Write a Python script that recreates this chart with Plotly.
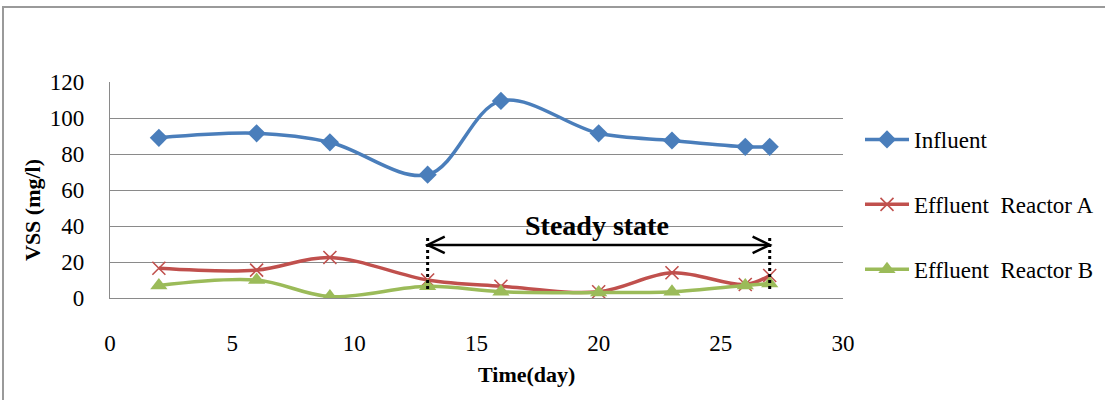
import plotly.graph_objects as go

# Sampling days and VSS concentrations (mg/l)
days = [2, 6, 9, 13, 16, 20, 23, 26, 27]
influent = [89, 91.5, 86.5, 68.5, 109.5, 91.5, 87.5, 84, 84]
effluent_a = [16.5, 15.5, 22.5, 10, 6.5, 3.5, 14, 7.5, 12.5]
effluent_b = [7, 10, 0.8, 6.5, 3.5, 3, 3.5, 7, 8]

series_names = ["Influent", "Effluent  Reactor A", "Effluent  Reactor B"]
x_ticks = [0, 5, 10, 15, 20, 25, 30]
y_ticks = [0, 20, 40, 60, 80, 100, 120]

# Steady-state window
steady_start = 13
steady_end = 27
steady_label = "Steady state"
arrow_level = 29.5
marker_top = 35
marker_bottom = 5

SERIF = "Liberation Serif, Times New Roman, serif"
BLUE = "#4A7EBB"
RED = "#C0504D"
GREEN = "#9BBB59"
GRID = "#8a8a8a"

fig = go.Figure()

fig.add_trace(go.Scatter(
    x=days, y=influent, name=series_names[0], mode="lines+markers",
    line=dict(color=BLUE, width=3.5, shape="spline", smoothing=1),
    marker=dict(symbol="diamond", size=14, color=BLUE),
    legendgroup="a",
))
fig.add_trace(go.Scatter(
    x=days, y=effluent_a, name=series_names[1], mode="lines+markers",
    line=dict(color=RED, width=3.5, shape="spline", smoothing=1),
    marker=dict(symbol="x-thin-open", size=13, color=RED, line=dict(width=1.6, color=RED)),
    legendgroup="b",
))
fig.add_trace(go.Scatter(
    x=days, y=effluent_b, name=series_names[2], mode="lines+markers",
    line=dict(color=GREEN, width=3.5, shape="spline", smoothing=1),
    marker=dict(symbol="triangle-up", size=15, color=GREEN),
    legendgroup="c",
))

# Dotted boundaries of the steady-state window
for xv in (steady_start, steady_end):
    fig.add_shape(type="line", xref="x", yref="y",
                  x0=xv, x1=xv, y0=marker_bottom, y1=marker_top,
                  line=dict(color="black", width=3, dash="dot"))

# Double-headed arrow across the window with open chevron heads
fig.add_shape(type="line", xref="x", yref="y",
              x0=steady_start, x1=steady_end, y0=arrow_level, y1=arrow_level,
              line=dict(color="black", width=2.5))
head_dx = 0.7
head_dy = 4.6
for tip, sign in ((steady_start, 1), (steady_end, -1)):
    fig.add_shape(
        type="path", xref="x", yref="y",
        path=(f"M {tip + sign * head_dx},{arrow_level + head_dy} "
              f"L {tip},{arrow_level} "
              f"L {tip + sign * head_dx},{arrow_level - head_dy}"),
        line=dict(color="black", width=2.5),
    )

fig.add_annotation(
    x=(steady_start + steady_end) / 2 - 0.05, y=40.5, xref="x", yref="y",
    text=f"<b>{steady_label}</b>", showarrow=False,
    xanchor="center", yanchor="middle",
    font=dict(family=SERIF, size=28, color="black"),
)

# Axis titles
fig.add_annotation(
    x=(526 - 110) / 733, y=(298 - 374) / 216, xref="paper", yref="paper",
    text="<b>Time(day)</b>", showarrow=False,
    xanchor="center", yanchor="middle",
    font=dict(family=SERIF, size=22, color="black"),
)
fig.add_annotation(
    x=(32 - 110) / 733, y=(298 - 210) / 216, xref="paper", yref="paper",
    text="<b>VSS (mg/l)</b>", showarrow=False, textangle=-90,
    xanchor="center", yanchor="middle",
    font=dict(family=SERIF, size=22, color="black"),
)

# Chart-area frame
fig.add_shape(type="rect", xref="paper", yref="paper",
              x0=(3 - 110) / 733, x1=(1112 - 110) / 733,
              y0=(298 - 7) / 216, y1=(298 - 410) / 216,
              line=dict(color="#9a9a9a", width=2), layer="below")

fig.update_layout(
    width=1105, height=400,
    margin=dict(l=110, r=262, t=82, b=102, autoexpand=False),
    paper_bgcolor="white", plot_bgcolor="white",
    font=dict(family=SERIF, size=23, color="black"),
    showlegend=True,
    legend=dict(
        x=(860 - 110) / 733, y=(298 - 118) / 216, xanchor="left", yanchor="top",
        font=dict(family=SERIF, size=23, color="black"),
        tracegroupgap=32, itemwidth=44, traceorder="grouped",
        bgcolor="rgba(0,0,0,0)",
    ),
    xaxis=dict(
        range=[0, 30], tickvals=x_ticks, ticks="", showgrid=False,
        zeroline=False, showline=True, linecolor=GRID, linewidth=1.3,
        ticklabelstandoff=24,
        tickfont=dict(family=SERIF, size=23, color="black"),
    ),
    yaxis=dict(
        range=[0, 120], tickvals=y_ticks, ticks="",
        showgrid=True, gridcolor=GRID, gridwidth=1.3,
        zeroline=False, showline=True, linecolor=GRID, linewidth=1.3,
        ticklabelstandoff=20,
        tickfont=dict(family=SERIF, size=23, color="black"),
    ),
)

fig.write_html("out.html")
